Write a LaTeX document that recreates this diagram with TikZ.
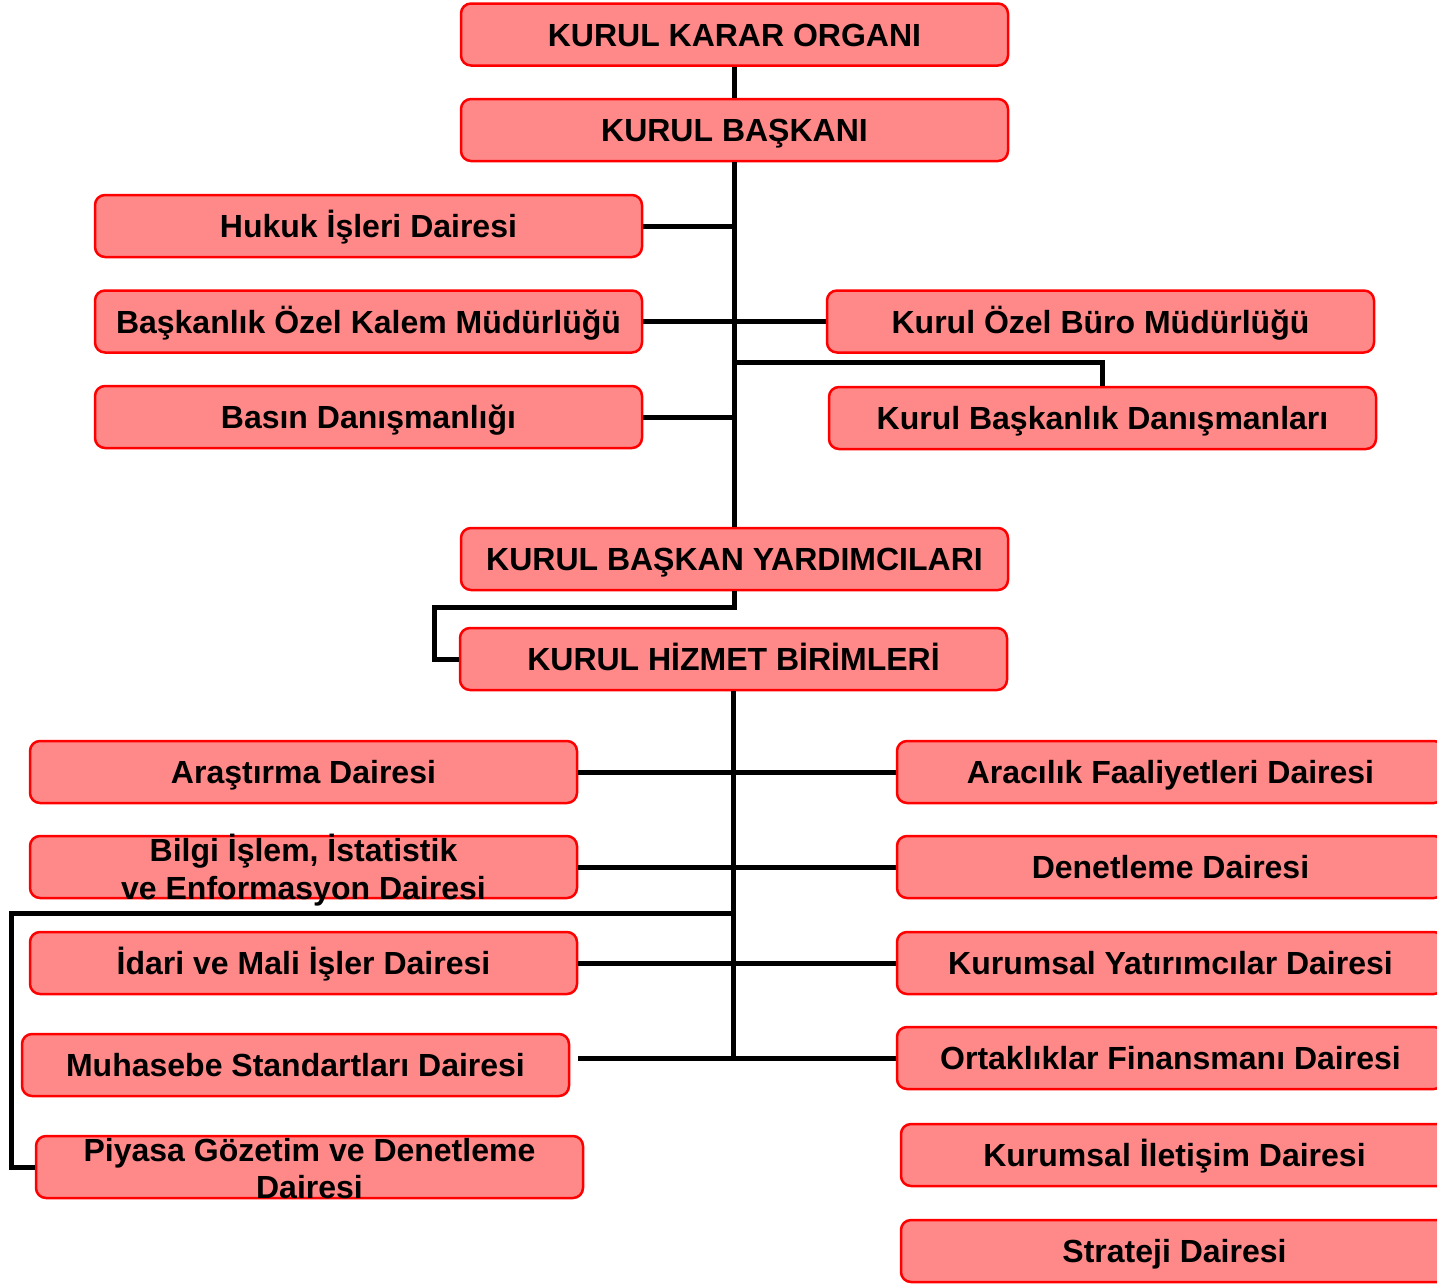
\documentclass[tikz,border=0pt]{standalone}
\usepackage{fontspec}
\setmainfont{Liberation Sans}
\definecolor{birimrenk}{RGB}{255,137,137}
\begin{document}
\begin{tikzpicture}[x=1pt, y=-1pt,
		birim/.style={shape=rectangle, rounded corners=10pt, draw=red, line width=2.5pt, fill=birimrenk,
			minimum width=547pt, minimum height=62pt, inner sep=0pt, text height=23pt, text depth=0pt,
			font=\fontsize{32}{37.5}\selectfont\bfseries},
		baglanti/.style={line width=5pt, line join=miter}]
		\useasboundingbox (0, 0) rectangle (1437, 1283);
		\clip (0, 0) rectangle (1437, 1283);
		% Top management nodes
		\node[birim] (Karar) at (734.5, 34.5) {KURUL KARAR ORGANI};
		\node[birim] (Baskan) at (734.5, 130) {KURUL BAŞKANI};
		\node[birim] (Hukuk) at (368.5, 226) {Hukuk İşleri Dairesi};
		\node[birim] (OzelKalem) at (368.5, 321.5) {Başkanlık Özel Kalem Müdürlüğü};
		\node[birim] (Basin) at (368.5, 417) {Basın Danışmanlığı};
		\node[birim] (OzelBuro) at (1100.5, 321.5) {Kurul Özel Büro Müdürlüğü};
		\node[birim] (Danisman) at (1102.5, 418) {Kurul Başkanlık Danışmanları};
		\node[birim] (Yardimci) at (734.5, 559) {KURUL BAŞKAN YARDIMCILARI};
		\node[birim] (Hizmet) at (733.5, 659) {KURUL HİZMET BİRİMLERİ};
		% Top management connections
		\draw[baglanti] (Karar) -- (Baskan);
		\draw[baglanti] (Baskan) -- (Yardimci);
		\draw[baglanti] (Hukuk.east) -- (Hukuk.east -| Baskan.south);
		\draw[baglanti] (OzelKalem) -- (OzelBuro);
		\draw[baglanti] (Basin.east) -- (Basin.east -| Baskan.south);
		\coordinate (D) at (734.5, 362);
		\draw[baglanti] (D) -| (Danisman.north);
		\draw[baglanti] (Yardimci.south) -- ++(0, 16) -- ++(-300, 0) |- (Hizmet.west);
		% Service unit nodes, left
		\node[birim] (Arastirma) at (303.5, 772) {Araştırma Dairesi};
		\node[birim] (Bilgi) at (303.5, 867) {\begin{tabular}{@{}c@{}}Bilgi İşlem, İstatistik\\ve Enformasyon Dairesi\end{tabular}};
		\node[birim] (Idari) at (303.5, 963) {İdari ve Mali İşler Dairesi};
		\node[birim] (Muhasebe) at (295.5, 1065) {Muhasebe Standartları Dairesi};
		\node[birim] (Piyasa) at (309.5, 1167) {\begin{tabular}{@{}c@{}}Piyasa Gözetim ve Denetleme\\Dairesi\end{tabular}};
		% Service unit nodes, right
		\node[birim] (Aracilik) at (1170.5, 772) {Aracılık Faaliyetleri Dairesi};
		\node[birim] (Denetleme) at (1170.5, 867) {Denetleme Dairesi};
		\node[birim] (KurYat) at (1170.5, 963) {Kurumsal Yatırımcılar Dairesi};
		\node[birim] (Ortak) at (1170.5, 1058) {Ortaklıklar Finansmanı Dairesi};
		\node[birim] (Iletisim) at (1174.5, 1155) {Kurumsal İletişim Dairesi};
		\node[birim] (Strateji) at (1174.5, 1251) {Strateji Dairesi};
		% Service unit connections
		\draw[baglanti] (Hizmet.south) |- (Ortak.west);
		\draw[baglanti] (Arastirma) -- (Aracilik);
		\draw[baglanti] (Bilgi) -- (Denetleme);
		\draw[baglanti] (Idari) -- (KurYat);
		\coordinate (M) at (578, 1058);
		\draw[baglanti] (M) -- (Hizmet.south |- Ortak.west);
		\coordinate (P) at (11, 913);
		\draw[baglanti] (Hizmet.south |- P) -- (P) |- (Piyasa.west);
	\end{tikzpicture}
\end{document}
